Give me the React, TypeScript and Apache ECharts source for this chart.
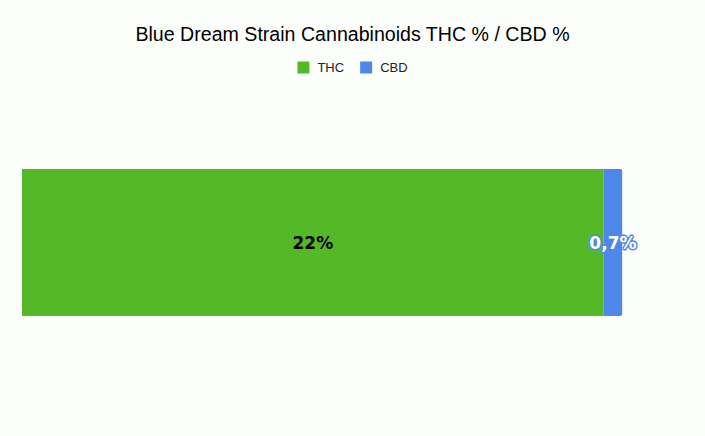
import { useEffect, useRef } from 'react'
import * as echarts from 'echarts'

const categories = ['Blue Dream']
const thcValues = [22]
const cbdValues = [0.7]
const valueLabels = { THC: ['22%'], CBD: ['0,7%'] }

export default function App() {
  const chartRef = useRef<HTMLDivElement>(null)

  useEffect(() => {
    if (!chartRef.current) return
    document.body.style.margin = '0'
    const chart = echarts.init(chartRef.current, undefined, { renderer: 'svg' })

    const option: echarts.EChartsOption = {
      animation: false,
      backgroundColor: '#fcfefc',
      title: {
        text: 'Blue Dream Strain Cannabinoids THC % / CBD %',
        left: 'center',
        top: 19,
        textStyle: { fontFamily: 'Liberation Sans, Arial, sans-serif', fontSize: 19.6, fontWeight: 'normal', color: '#000' }
      },
      legend: {
        top: 56,
        left: 'center',
        itemWidth: 12,
        itemHeight: 12,
        itemGap: 16,
        icon: 'rect',
        textStyle: { fontFamily: 'Liberation Sans, Arial, sans-serif', fontSize: 13, color: '#222', padding: [0, 0, 0, 3] },
        data: ['THC', 'CBD']
      },
      grid: { left: 22, right: 22, top: 169, height: 147 },
      xAxis: { type: 'value', min: 0, max: 25, show: false },
      yAxis: { type: 'category', data: categories, show: false },
      series: [
        {
          name: 'THC',
          type: 'bar',
          stack: 'total',
          barWidth: 147,
          data: thcValues,
          itemStyle: { color: '#55b927' },
          label: {
            show: true,
            position: 'inside',
            formatter: (p: any) => valueLabels.THC[p.dataIndex],
            fontFamily: 'DejaVu Sans, sans-serif',
            fontSize: 17,
            fontWeight: 'bold',
            color: '#000'
          }
        },
        {
          name: 'CBD',
          type: 'bar',
          stack: 'total',
          barWidth: 147,
          data: cbdValues,
          itemStyle: { color: '#4e86ea', borderRadius: [0, 2, 2, 0] },
          label: {
            show: true,
            position: 'inside',
            formatter: (p: any) => valueLabels.CBD[p.dataIndex],
            fontFamily: 'DejaVu Sans, sans-serif',
            fontSize: 17,
            fontWeight: 'bold',
            color: '#fff',
            textBorderColor: '#4e86ea',
            textBorderWidth: 3
          }
        }
      ]
    }

    chart.setOption(option)
    return () => chart.dispose()
  }, [])

  return <div ref={chartRef} style={{ width: 705, height: 436 }} />
}
